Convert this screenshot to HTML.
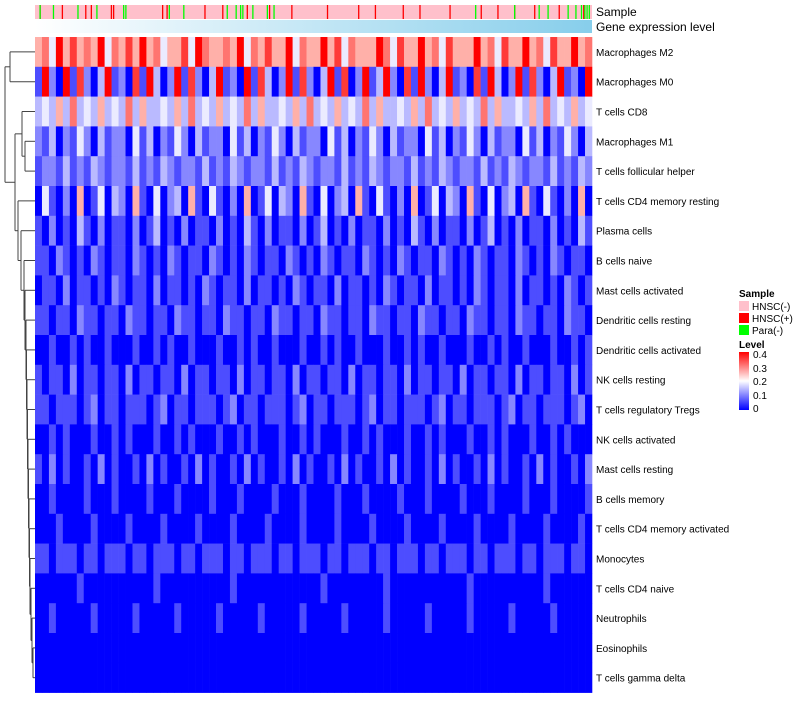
<!DOCTYPE html>
<html><head><meta charset="utf-8"><style>
body{margin:0;background:#fff;font-family:"Liberation Sans",sans-serif}
svg text{font-family:"Liberation Sans",sans-serif}
</style></head><body>
<svg id="c" width="800" height="700" xmlns="http://www.w3.org/2000/svg">
<defs>
<linearGradient id="gexp" x1="0" x2="1" y1="0" y2="0"><stop offset="0" stop-color="#ffffff"/><stop offset="1" stop-color="#87ceeb"/></linearGradient>
<linearGradient id="lev" x1="0" x2="0" y1="1" y2="0"><stop offset="0" stop-color="#0000ff"/><stop offset="0.5" stop-color="#ffffff"/><stop offset="1" stop-color="#ff0000"/></linearGradient>
</defs>
<g id="dend"></g>
<g id="cells"></g>
<rect x="35" y="5" width="557" height="14" fill="#ffc0cb"/>
<g id="samp"></g>
<rect x="35" y="20" width="557" height="13" fill="url(#gexp)"/>
<text x="596" y="16" font-size="12">Sample</text>
<text x="596" y="31" font-size="12">Gene expression level</text>
<g id="labels"></g>
<g>
<text x="739" y="297" font-size="10" font-weight="bold">Sample</text>
<rect x="739" y="301" width="10" height="10" fill="#ffc0cb"/>
<text x="752" y="310" font-size="10">HNSC(-)</text>
<rect x="739" y="313" width="10" height="10" fill="#ff0000"/>
<text x="752" y="322" font-size="10">HNSC(+)</text>
<rect x="739" y="325" width="10" height="10" fill="#00ff00"/>
<text x="752" y="334" font-size="10">Para(-)</text>
<text x="739" y="348" font-size="10" font-weight="bold">Level</text>
<rect x="739" y="352" width="10" height="58" fill="url(#lev)"/>
<text x="753" y="358" font-size="10">0.4</text>
<text x="753" y="372" font-size="10">0.3</text>
<text x="753" y="385" font-size="10">0.2</text>
<text x="753" y="399" font-size="10">0.1</text>
<text x="753" y="412" font-size="10">0</text>
</g>
</svg>
<script>
const rowNames=["Macrophages M2","Macrophages M0","T cells CD8","Macrophages M1","T cells follicular helper","T cells CD4 memory resting","Plasma cells","B cells naive","Mast cells activated","Dendritic cells resting","Dendritic cells activated","NK cells resting","T cells regulatory  Tregs","NK cells activated","Mast cells resting","B cells memory","T cells CD4 memory activated","Monocytes","T cells CD4 naive","Neutrophils","Eosinophils","T cells gamma delta"];
// digit d => level d*0.05
const rowData=[
"56485756584657585645574865565846575584655857465558647558564755585647558564755856",
"18208172038120718302817203812081730281720381702813820718203812071830281720381208",
"34353634353436353343536343534363533435363435343635334353634353436353343536343534",
"21302142031220413021420312204130214203122041302142031220413021420312204130214203",
"12213121321221312132122131213212213121321221312132122131213212213121321221312132",
"04102050140320510402305104102050140320510402305104102050140320510402305104102050",
"10201031020110201301020110201031020110201301020110201031020110201301020110201031",
"11021010210110210102101102101021011021010210110210102101102101021011021010210110",
"01102011010210110201101021011020110102101102011010210110201101021011020110102101",
"11011021101102110110211011021101102110110211011021101102110110211011021101102110",
"00100101001000100101001000100101001000100101001000100101001000100101001000100101",
"10110201101102011011020110110201101102011011020110110201101102011011020110110201",
"11011101201101110120110111012011011101201101110120110111012011011101201101110120",
"00101000100101000100101000100101000100101000100101000100101000100101000100101000",
"10201001020100102010010201001020100102010010201001020100102010010201001020100102",
"00100001000100001000100001000100001000100001000100001000100001000100001000100001",
"00010000100001000010000100001000010000100001000010000100001000010000100001000010",
"11011101101110110111011011101101110110111011011101101110110111011011101101110110",
"00000010000000000100000000001000000000000100000000100000000000100000000001000000",
"00100000100000100000100000100000100000100000100000100000100000100000100000100000",
"00000000000000000000000000000000000000000000000000000000000000000000000000000000",
"00000000000000000000000000000000000000000000000000000000000000000000000000000000"];
const nSamples=500;
const hnscPos=[4,24,45,50,68,70,114,118,152,168,190,210,230,262,290,305,330,345,372,400,415,430,448,470,492];
const paraPos=[4,16,38,55,79,81,120,133,172,180,184,186,195,208,214,395,430,452,460,478,485,490,493,495,497];
const X0=35,W=557,Y0=37,RH=29.8;
const ns="http://www.w3.org/2000/svg";
function sx(i){return X0+W*i/nSamples;}
function ry(i){return Y0+RH*i;}
function col(v){v=Math.max(0,Math.min(0.4,v));
 if(v<=0.2){const t=v/0.2;const g=Math.round(255*Math.pow(t,0.8)*0.92);return `rgb(${g},${g},255)`;}
 const t=(v-0.2)/0.2;return `rgb(255,${Math.round(235*(1-t))},${Math.round(225*(1-t))})`;}
const cells=document.getElementById('cells');
rowData.forEach((s,r)=>{const n=s.length,cw=W/n;
 for(let j=0;j<n;j++){const e=document.createElementNS(ns,'rect');
  e.setAttribute('x',X0+j*cw);e.setAttribute('y',ry(r));e.setAttribute('width',cw+0.3);e.setAttribute('height',RH+0.3);
  e.setAttribute('fill',col(+s[j]*0.05));
  
  
  cells.appendChild(e);}
 const t=document.createElementNS(ns,'text');
 t.setAttribute('x',596);t.setAttribute('y',ry(r)+RH/2+4);t.setAttribute('font-size','10');t.textContent=rowNames[r];
 
 
 document.getElementById('labels').appendChild(t);});
const samp=document.getElementById('samp');
function mark(p,c){const e=document.createElementNS(ns,'rect');e.setAttribute('x',sx(p));e.setAttribute('y',5);e.setAttribute('width',1.3);e.setAttribute('height',14);e.setAttribute('fill',c);
 
 
 samp.appendChild(e);}
hnscPos.forEach(p=>mark(p,'#ff0000'));paraPos.forEach(p=>mark(p,'#00ff00'));
const merges=[[0,1,10],[3,4,25],[2,-2,22],[20,21,33],[19,-4,32],[18,-5,31],[17,-6,30],[16,-7,29.5],[15,-8,29],[14,-9,28.5],[13,-10,28],[12,-11,27.5],[11,-12,27],[10,-13,26.5],[9,-14,26],[8,-15,25],[7,-16,24],[6,-17,21],[5,-18,18],[-3,-19,15],[-1,-20,5]];
const node=[];const dend=document.getElementById('dend');
function ln(x1,y1,x2,y2){const e=document.createElementNS(ns,'line');e.setAttribute('x1',x1);e.setAttribute('y1',y1);e.setAttribute('x2',x2);e.setAttribute('y2',y2);e.setAttribute('stroke','#444');e.setAttribute('stroke-width','1');
 
 
 dend.appendChild(e);}
function info(c){return c>=0?{x:35,y:ry(c)+RH/2}:node[-c-1];}
merges.forEach(([a,b,x])=>{const A=info(a),B=info(b);ln(x,A.y,A.x,A.y);ln(x,B.y,B.x,B.y);ln(x,A.y,x,B.y);node.push({x:x,y:(A.y+B.y)/2});});
</script>
</body></html>
